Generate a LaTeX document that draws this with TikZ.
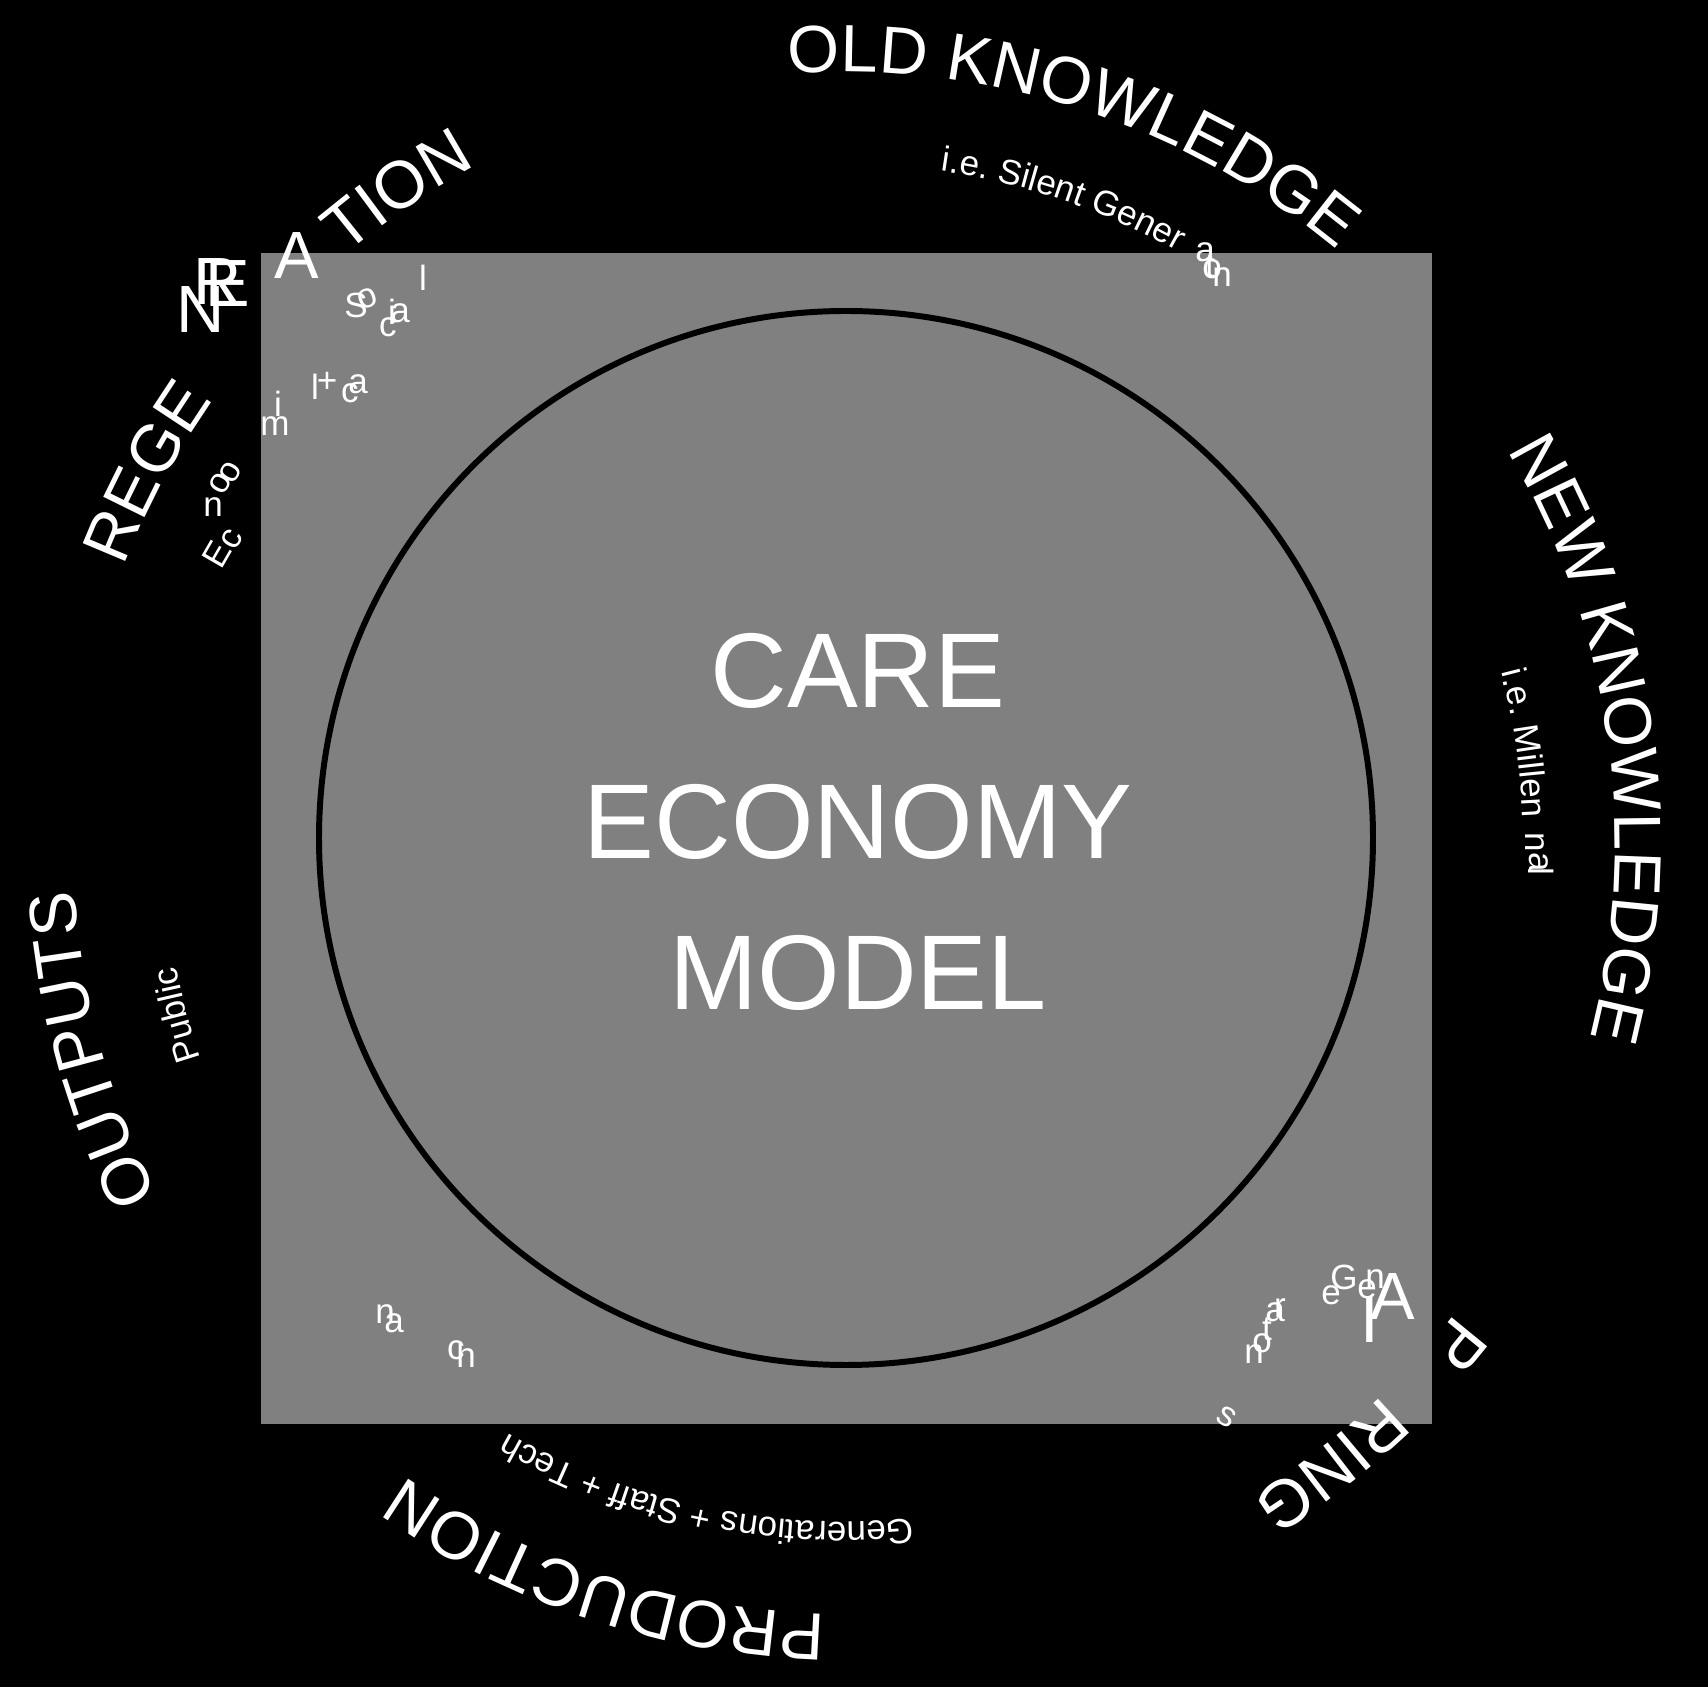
\documentclass[tikz,border=0pt]{standalone}
\usepackage{fontspec}
\setmainfont{Liberation Sans}
\usetikzlibrary{decorations.text}

\newcommand\labelfont{\fontsize{19pt}{20pt}\selectfont}
\newcommand\notefont{\fontsize{9.96pt}{11pt}\selectfont}
\newcommand\titlefont{\fontsize{30.2pt}{42.9pt}\selectfont}

% text along a clockwise arc round (ctr): start angle, end angle, radius, text
\newcommand\arctext[4]{%
  \path[decorate,decoration={text along path,text align=left,text color=white,
    text={#4}}] ([shift={(#1:#3)}]ctr) arc[start angle=#1,end angle=#2,radius=#3];}

\begin{document}
\begin{tikzpicture}[x=0.01cm,y=0.01cm,
    loose big/.style={text=white,inner sep=0pt,font=\labelfont},
    loose small/.style={text=white,inner sep=0pt,font=\notefont}]
  % background, square and ring
  \fill[black] (0,0) rectangle (1708,1687);
  \useasboundingbox (0,0) rectangle (1708,1687);
  \fill[gray] (261,263) rectangle (1432,1434);
  \coordinate (ctr) at (844,844);
  \draw[line width=1.7pt] (846,849) circle[radius=527];
  \node[text=white,font=\titlefont,align=center] (title) at (858,865) {CARE\\ECONOMY\\MODEL};
  % outer labels
  \arctext{94.1}{30}{771}{|\labelfont|OLD KNOWLEDGE}
  \arctext{30.6}{-30}{771}{|\labelfont|NEW KNOWLEDGE}
  \arctext{-37.6}{-45}{771}{|\labelfont|P}
  \arctext{-45.74}{-75}{771}{|\labelfont|RING}
  \arctext{-91.4}{-140}{771}{|\labelfont|PRODUCTION}
  \arctext{207.2}{170}{771}{|\labelfont|OUTPUTS}
  \arctext{159}{140}{771}{|\labelfont|REGE}
  \arctext{130.3}{110}{771}{|\labelfont|TION}
  % notes under the labels
  \arctext{81.8}{40}{679}{|\notefont|i.e. Silent Gener}
  \arctext{14.6}{-5}{679}{|\notefont|i.e. Millen}
  \arctext{-84.2}{-140}{679}{|\notefont|Generations + Staff + Tech}
  \arctext{198.5}{180}{679}{|\notefont|Public}
  % letters that left their arcs
  \foreach \ch/\px/\py/\rot [count=\i] in {N/201/310/0,R/218/282/0,E/228/284/0,
      A/297/256/0,A/1393/1297/0,I/1370/1320/0}
    \node[loose big,rotate=\rot] (big\i) at (\px,{1687-\py}) {\ch};
  \foreach \ch/\px/\py/\rot [count=\i] in {E/217/554/60,c/232/539/60,n/213/507/0,
      o/220/483/60,o/230/472/60,m/275/426/0,i/278/404/0,l/315/387/0,+/327/382/0,
      c/350/393/0,a/358/384/0,S/356/305/0,o/367/298/20,c/388/327/0,i/392/312/0,
      a/400/313/0,l/423/278/0,
      a/1205/252/0,t/1210/266/0,o/1212/269/0,n/1222/277/0,
      n/1535/842/-90,a/1539/862/-90,l/1541/871/-90,
      e/1331/1295/0,G/1344/1277/0,e/1367/1289/0,n/1375/1279/0,r/1280/1308/0,
      a/1275/1312/0,t/1267/1329/0,o/1262/1343/0,n/1254/1354/0,s/1227/1417/-30,
      n/385/1314/0,a/394/1323/0,c/456/1350/0,h/466/1355/0}
    \node[loose small,rotate=\rot] (small\i) at (\px,{1687-\py}) {\ch};
\end{tikzpicture}
\end{document}
